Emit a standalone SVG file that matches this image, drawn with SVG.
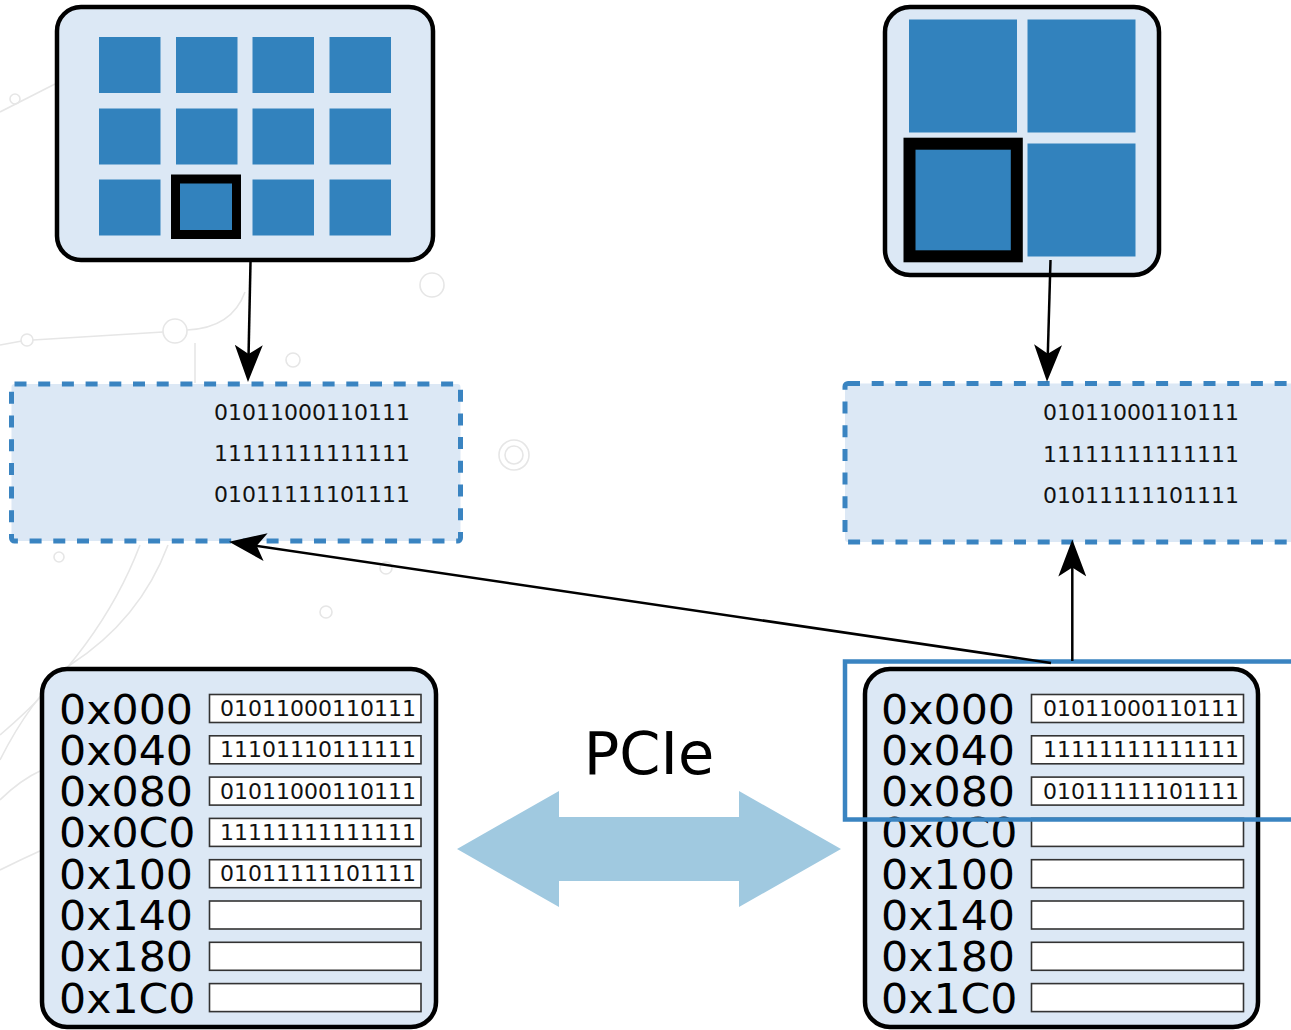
<svg xmlns="http://www.w3.org/2000/svg" width="1291" height="1030" viewBox="0 0 1291 1030">
  <defs>
    <marker id="head" viewBox="0 0 37 28" markerWidth="37" markerHeight="28" refX="27" refY="14" orient="auto" markerUnits="userSpaceOnUse">
      <path d="M0,0 L37,14 L0,28 L9,14 Z" fill="#000"/>
    </marker>
    <style>
      .bg { fill: none; stroke: #e6e6e6; stroke-width: 1.6; }
      .panel { fill: #dce8f5; stroke: #000; stroke-width: 4.5; }
      .tile { fill: #3282bd; }
      .pick { fill: #3282bd; stroke: #000; }
      .buf { fill: #dce8f5; stroke: #3a84c1; stroke-width: 5; stroke-dasharray: 12 11.7; }
      .bits { font-family: "DejaVu Sans", Verdana, sans-serif; font-size: 22px; fill: #111; }
      .addr { font-family: "DejaVu Sans", Verdana, sans-serif; font-size: 40px; fill: #000; }
      .cell { fill: #fff; stroke: #333; stroke-width: 1.6; }
      .link { stroke: #000; stroke-width: 2.5; fill: none; marker-end: url(#head); }
      .pcie { fill: #a0c9e0; }
    </style>
  </defs>

  <!-- faint circuit-board backdrop -->
  <g id="backdrop">
    <path class="bg" d="M0,112 L55,84"/>
    <circle class="bg" cx="15" cy="99" r="5"/>
    <path class="bg" d="M0,345 L22,341 M33,340 L163,332 M187,330 Q232,328 245,292"/>
    <circle class="bg" cx="27" cy="340" r="6"/>
    <circle class="bg" cx="175" cy="331" r="12"/>
    <path class="bg" d="M195,343 L195,383"/>
    <circle class="bg" cx="432" cy="285" r="12"/>
    <circle class="bg" cx="293" cy="360" r="7"/>
    <circle class="bg" cx="514" cy="455" r="15"/>
    <circle class="bg" cx="514" cy="455" r="9"/>
    <circle class="bg" cx="59" cy="557" r="5"/>
    <circle class="bg" cx="386" cy="568" r="6"/>
    <circle class="bg" cx="326" cy="612" r="6"/>
    <path class="bg" d="M140,545 Q100,650 0,735"/>
    <path class="bg" d="M168,545 Q140,620 70,665 Q30,700 0,760"/>
    <path class="bg" d="M0,800 Q20,780 42,770"/>
    <path class="bg" d="M0,870 Q20,860 42,850"/>
  </g>

  <!-- upper left: grid of twelve tiles -->
  <g id="grid12">
    <rect class="panel" x="57" y="7" width="376" height="253" rx="24"/>
    <rect class="tile" x="99" y="37" width="61.5" height="56"/>
    <rect class="tile" x="176" y="37" width="61.5" height="56"/>
    <rect class="tile" x="252.5" y="37" width="61.5" height="56"/>
    <rect class="tile" x="329.5" y="37" width="61.5" height="56"/>
    <rect class="tile" x="99" y="108.5" width="61.5" height="56"/>
    <rect class="tile" x="176" y="108.5" width="61.5" height="56"/>
    <rect class="tile" x="252.5" y="108.5" width="61.5" height="56"/>
    <rect class="tile" x="329.5" y="108.5" width="61.5" height="56"/>
    <rect class="tile" x="99" y="179.5" width="61.5" height="56"/>
    <rect class="pick" x="175.5" y="179" width="61" height="55.5" stroke-width="9"/>
    <rect class="tile" x="252.5" y="179.5" width="61.5" height="56"/>
    <rect class="tile" x="329.5" y="179.5" width="61.5" height="56"/>
  </g>

  <!-- upper right: grid of four tiles -->
  <g id="grid4">
    <rect class="panel" x="885" y="7" width="274" height="268" rx="25"/>
    <rect class="tile" x="909" y="19.5" width="108" height="113"/>
    <rect class="tile" x="1027.5" y="19.5" width="108" height="113"/>
    <rect class="tile" x="1027.5" y="143.5" width="108" height="113"/>
    <rect class="pick" x="909.5" y="143.7" width="107.3" height="112.6" stroke-width="12"/>
  </g>

  <!-- staging buffers -->
  <g id="bufLeft">
    <rect class="buf" x="11.5" y="384" width="449" height="157" rx="3"/>
    <text class="bits" x="214" y="419.5">01011000110111</text>
    <text class="bits" x="214" y="461">11111111111111</text>
    <text class="bits" x="214" y="502">01011111101111</text>
  </g>
  <g id="bufRight">
    <rect class="buf" x="845" y="383.5" width="500" height="158.5" rx="3"/>
    <text class="bits" x="1043" y="420">01011000110111</text>
    <text class="bits" x="1043" y="461.5">11111111111111</text>
    <text class="bits" x="1043" y="502.5">01011111101111</text>
  </g>

  <!-- host memory -->
  <g id="memLeft">
    <rect class="panel" x="42" y="669" width="394" height="358" rx="25"/>
    <g class="addr">
      <text x="59" y="723.5" textLength="134" lengthAdjust="spacingAndGlyphs">0x000</text>
      <text x="59" y="764.8" textLength="134" lengthAdjust="spacingAndGlyphs">0x040</text>
      <text x="59" y="806.1" textLength="134" lengthAdjust="spacingAndGlyphs">0x080</text>
      <text x="59" y="847.4" textLength="136.5" lengthAdjust="spacingAndGlyphs">0x0C0</text>
      <text x="59" y="888.7" textLength="134" lengthAdjust="spacingAndGlyphs">0x100</text>
      <text x="59" y="930" textLength="134" lengthAdjust="spacingAndGlyphs">0x140</text>
      <text x="59" y="971.3" textLength="134" lengthAdjust="spacingAndGlyphs">0x180</text>
      <text x="59" y="1012.6" textLength="136.5" lengthAdjust="spacingAndGlyphs">0x1C0</text>
    </g>
    <rect class="cell" x="209.5" y="694.5" width="211.5" height="28"/>
    <rect class="cell" x="209.5" y="735.8" width="211.5" height="28"/>
    <rect class="cell" x="209.5" y="777.1" width="211.5" height="28"/>
    <rect class="cell" x="209.5" y="818.4" width="211.5" height="28"/>
    <rect class="cell" x="209.5" y="859.7" width="211.5" height="28"/>
    <rect class="cell" x="209.5" y="901" width="211.5" height="28"/>
    <rect class="cell" x="209.5" y="942.3" width="211.5" height="28"/>
    <rect class="cell" x="209.5" y="983.6" width="211.5" height="28"/>
    <g class="bits" text-anchor="end">
      <text x="416" y="716">01011000110111</text>
      <text x="416" y="757.3">11101110111111</text>
      <text x="416" y="798.6">01011000110111</text>
      <text x="416" y="839.9">11111111111111</text>
      <text x="416" y="881.2">01011111101111</text>
    </g>
  </g>

  <g id="memRight">
    <rect class="panel" x="865" y="669" width="393" height="358" rx="25"/>
    <g class="addr">
      <text x="881" y="723.5" textLength="134" lengthAdjust="spacingAndGlyphs">0x000</text>
      <text x="881" y="764.8" textLength="134" lengthAdjust="spacingAndGlyphs">0x040</text>
      <text x="881" y="806.1" textLength="134" lengthAdjust="spacingAndGlyphs">0x080</text>
      <text x="881" y="847.4" textLength="136.5" lengthAdjust="spacingAndGlyphs">0x0C0</text>
      <text x="881" y="888.7" textLength="134" lengthAdjust="spacingAndGlyphs">0x100</text>
      <text x="881" y="930" textLength="134" lengthAdjust="spacingAndGlyphs">0x140</text>
      <text x="881" y="971.3" textLength="134" lengthAdjust="spacingAndGlyphs">0x180</text>
      <text x="881" y="1012.6" textLength="136.5" lengthAdjust="spacingAndGlyphs">0x1C0</text>
    </g>
    <rect class="cell" x="1031.5" y="694.5" width="212" height="28"/>
    <rect class="cell" x="1031.5" y="735.8" width="212" height="28"/>
    <rect class="cell" x="1031.5" y="777.1" width="212" height="28"/>
    <rect class="cell" x="1031.5" y="818.4" width="212" height="28"/>
    <rect class="cell" x="1031.5" y="859.7" width="212" height="28"/>
    <rect class="cell" x="1031.5" y="901" width="212" height="28"/>
    <rect class="cell" x="1031.5" y="942.3" width="212" height="28"/>
    <rect class="cell" x="1031.5" y="983.6" width="212" height="28"/>
    <g class="bits" text-anchor="end">
      <text x="1239" y="716">01011000110111</text>
      <text x="1239" y="757.3">11111111111111</text>
      <text x="1239" y="798.6">01011111101111</text>
    </g>
  </g>

  <!-- selected range of device memory -->
  <g id="window">
    <rect x="845" y="661.5" width="470" height="158" fill="none" stroke="#3a84c1" stroke-width="4.5"/>
  </g>

  <!-- PCIe link -->
  <g id="pcie">
    <path class="pcie" d="M457,849 L559,791 L559,817 L739,817 L739,791 L841,849 L739,907 L739,881 L559,881 L559,907 Z"/>
    <text x="649" y="774" text-anchor="middle" font-family="DejaVu Sans, Verdana, sans-serif" font-size="59">PCIe</text>
  </g>

  <!-- connectors -->
  <g id="connectors">
    <path class="link" d="M250.5,262 L248.2,372"/>
    <path class="link" d="M1050.5,260 L1047.3,371.7"/>
    <path class="link" d="M1072.3,661 L1072.3,549.5"/>
    <path class="link" d="M1051,663 L238.9,543.2"/>
  </g>
</svg>
